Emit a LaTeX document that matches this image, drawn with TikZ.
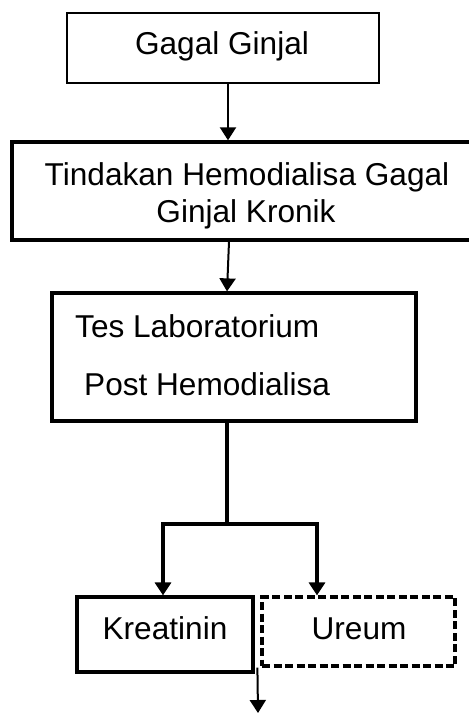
\documentclass[tikz,border=0pt]{standalone}
\usepackage{fontspec}
\setmainfont{Liberation Sans}
\usetikzlibrary{arrows.meta}
\begin{document}
\begin{tikzpicture}[x=1pt,y=-1pt,
  box/.style={draw,line width=#1,inner sep=0pt,anchor=center},
  box/.default=3pt,
  txt/.style={font=\fontsize{31.6}{37}\selectfont,inner sep=0pt},
  arr/.style={line width=#1,-{Triangle[width=16pt,length=13pt]}},
  arr/.default=2pt]
\useasboundingbox (0,0) rectangle (469,713);
% boxes
\node[box=2.4pt,minimum width=312pt,minimum height=70pt] (b1) at (223,48) {};
\node[box=3.4pt,minimum width=468pt,minimum height=98pt] (b2) at (246,191) {};
\node[box=3.2pt,minimum width=364pt,minimum height=128pt] (b3) at (234,357) {};
\node[box=3.2pt,minimum width=176pt,minimum height=75pt] (kre) at (165,634.5) {};
\node[box=3.2pt,dash pattern=on 8pt off 3.5pt,minimum width=193pt,minimum height=69pt] (ure) at (358.5,631.5) {};
% texts
\node[txt,anchor=base] (t1) at (222,54) {Gagal Ginjal};
\node[txt,anchor=base] (t2a) at (247,185) {Tindakan Hemodialisa Gagal};
\node[txt,anchor=base] (t2b) at (246,222) {Ginjal Kronik};
\node[txt,anchor=base west] (t3a) at (75,337) {Tes Laboratorium};
\node[txt,anchor=base west] (t3b) at (84,395) {Post Hemodialisa};
\node[txt,anchor=base] (t4) at (165,639) {Kreatinin};
\node[txt,anchor=base] (t5) at (359,639) {Ureum};
% connectors
\draw[arr=2.2pt] ([xshift=5pt]b1.south) -- ([xshift=-18pt]b2.north);
\draw[arr=2pt] ([xshift=-17pt]b2.south) -- ([xshift=-7pt]b3.north);
\coordinate (fork) at (227,524);
\draw[line width=3.2pt] ([xshift=-7pt]b3.south) -- (fork);
\draw[arr=3.2pt] (fork) -| ([xshift=-2pt]kre.north);
\draw[arr=3.2pt] (fork) -| ([xshift=-41.5pt]ure.north);
\coordinate (end) at (258,713);
\draw[arr=2pt] ([xshift=-3pt]ure.south west) -- (end);
\end{tikzpicture}
\end{document}
